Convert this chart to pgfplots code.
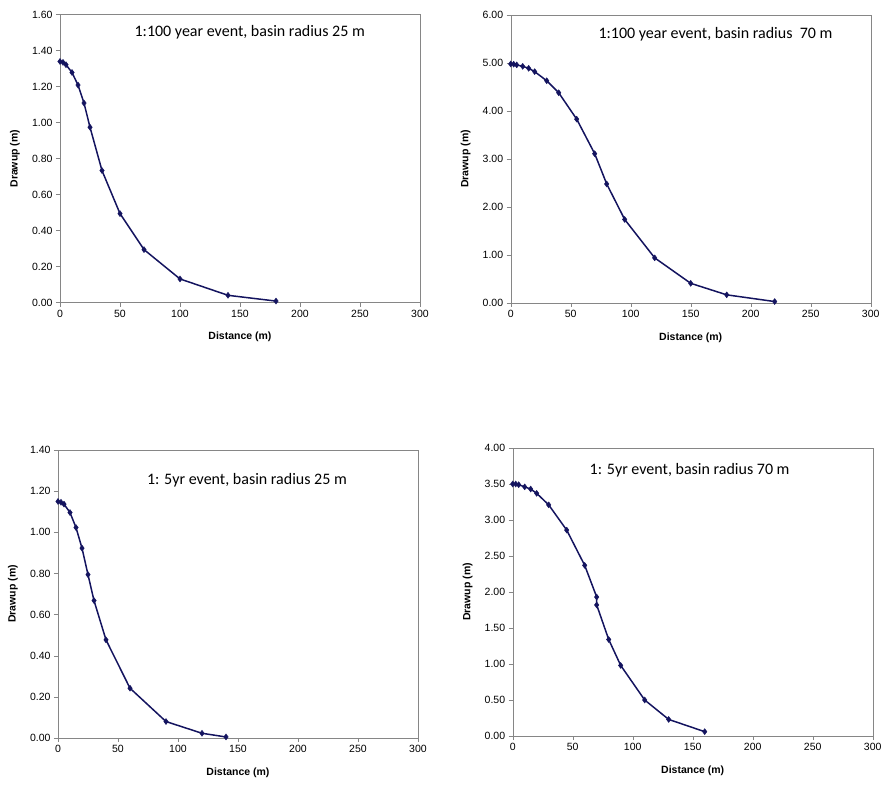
\documentclass[border=0pt]{standalone}
\usepackage{fontspec}
\setmainfont{Liberation Sans}
\newfontfamily\calibri{Carlito}
\usepackage{pgfplots}
\pgfplotsset{compat=1.18}
\definecolor{navyline}{RGB}{20,20,95}
\definecolor{frame}{RGB}{134,134,134}

\pgfplotsset{
  drawup/.style={
    scale only axis, width=360pt, height=288pt,
    xmin=0, xmax=300, ymin=0,
    xtick={0,50,...,300},
    axis line style={frame},
    tick style={frame, thin},
    tick align=outside, major tick length=4pt,
    xtick pos=left, ytick pos=left,
    tick label style={font=\fontsize{10.5}{12}\selectfont},
    label style={font=\fontsize{10.5}{12}\selectfont\bfseries},
    /pgf/number format/assume math mode=true,
    yticklabel style={/pgf/number format/.cd, fixed, fixed zerofill, precision=2},
    xticklabel style={/pgf/number format/.cd, fixed, precision=0},
    scaled y ticks=false,
    xlabel={Distance (m)}, ylabel={Drawup (m)},
    x label style={at={(axis description cs:0.5,-0.12)}, anchor=center},
    y label style={at={(axis description cs:-0.125,0.5)}, anchor=center, rotate=0},
    every axis plot post/.append style={navyline, line width=1.5pt, mark=diamond*, mark size=3pt, mark options={fill=navyline, draw=navyline, line width=0.4pt}},
  },
}
\tikzset{note/.style={anchor=west, font=\calibri\fontsize{16}{19}\selectfont, inner sep=0pt}}

\begin{document}
\begin{tikzpicture}
\useasboundingbox (0,0) rectangle (884pt,785pt);

% 1:100 yr, 25 m
\begin{axis}[drawup, at={(60pt,482.3pt)}, anchor=south west,
  ymax=1.6, ytick={0,0.2,...,1.6}]
\addplot coordinates {(0,1.340) (2.5,1.335) (5,1.322) (10,1.279) (15,1.209) (20,1.109) (25,0.975) (35,0.734) (50,0.495) (70,0.295) (100,0.132) (140,0.041) (180,0.009)};
\node[note] at (axis cs:62,1.50) {1:100 year event, basin radius 25 m};
\end{axis}

% 1:100 yr, 70 m
\begin{axis}[drawup, at={(510.7pt,482pt)}, anchor=south west,
  ymax=6, ytick={0,1,...,6}]
\addplot coordinates {(0,4.98) (2.5,4.975) (5,4.96) (10,4.93) (15,4.89) (20,4.82) (30,4.63) (40,4.38) (55,3.83) (70,3.11) (80,2.48) (95,1.74) (120,0.94) (150,0.41) (180,0.17) (220,0.03)};
\node[note] at (axis cs:73,5.59) {1:100 year event, basin radius\ \ 70 m};
\end{axis}

% 1:5 yr, 25 m
\begin{axis}[drawup, at={(58pt,47pt)}, anchor=south west,
  ymax=1.4, ytick={0,0.2,...,1.4}]
\addplot coordinates {(0,1.150) (2.5,1.146) (5,1.137) (10,1.096) (15,1.023) (20,0.923) (25,0.794) (30,0.668) (40,0.477) (60,0.242) (90,0.080) (120,0.023) (140,0.005)};
\node[note] at (axis cs:74,1.255) {1: 5yr event, basin radius 25 m};
\end{axis}

% 1:5 yr, 70 m
\begin{axis}[drawup, at={(512.7pt,49pt)}, anchor=south west,
  ymax=4, ytick={0,0.5,...,4}]
\addplot coordinates {(0,3.50) (2.5,3.50) (5,3.49) (10,3.46) (15,3.43) (20,3.37) (30,3.21) (45,2.86) (60,2.37) (70,1.93) (70,1.82) (80,1.34) (90,0.98) (110,0.50) (130,0.23) (160,0.06)};
\node[note] at (axis cs:64,3.69) {1: 5yr event, basin radius 70 m};
\end{axis}
\end{tikzpicture}
\end{document}
